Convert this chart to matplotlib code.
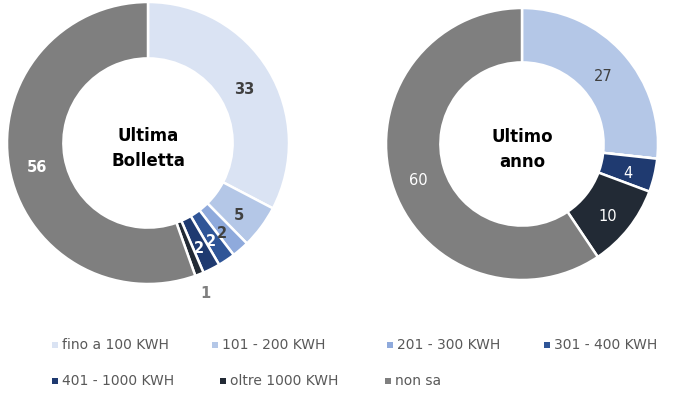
import matplotlib
matplotlib.use("Agg")
import matplotlib.pyplot as plt
from matplotlib.patches import Rectangle
import numpy as np

plt.rcParams['font.family'] = ['DejaVu Sans']

# dati
categorie = ["fino a 100 KWH", "101 - 200 KWH", "201 - 300 KWH", "301 - 400 KWH",
             "401 - 1000 KWH", "oltre 1000 KWH", "non sa"]
ultima_bolletta = [33, 5, 2, 2, 2, 1, 56]
ultimo_anno = [0, 27, 0, 0, 4, 10, 60]
colori = ["#DAE3F3", "#B4C7E7", "#8FAADC", "#2F5597", "#1F3A70", "#222A35", "#7F7F7F"]

W, H = 680, 401


def ciambella(ax, valori, titolo, grassetto, col_testo):
    wedges, _ = ax.pie(valori, colors=colori, startangle=90, counterclock=False,
                       radius=1, wedgeprops=dict(width=0.4, edgecolor="white", linewidth=1.8))
    ax.set_xlim(-1, 1)
    ax.set_ylim(-1, 1)
    ax.set_aspect("equal")
    for w, v, c in zip(wedges, valori, col_testo):
        if v == 0:
            continue
        ang = np.deg2rad((w.theta1 + w.theta2) / 2)
        r = 0.80 if v > 1 else 1.11
        ax.text(r * np.cos(ang), r * np.sin(ang) - 0.035, str(v), ha="center", va="center",
                fontsize=10.5, color=c, fontweight="bold" if grassetto else "normal",
                clip_on=False)
    ax.text(0, -0.04, titolo, ha="center", va="center", fontsize=12, fontweight="bold",
            color="black", linespacing=1.45)


fig = plt.figure(figsize=(6.8, 4.01), dpi=100)

ax1 = fig.add_axes([(148 - 141) / W, 1 - (143 + 141) / H, 282 / W, 282 / H])
ciambella(ax1, ultima_bolletta, "Ultima\nBolletta", True,
          ["#404040", "#404040", "#404040", "white", "white", "#7F7F7F", "white"])

ax2 = fig.add_axes([(522 - 136) / W, 1 - (144 + 136) / H, 272 / W, 272 / H])
ciambella(ax2, ultimo_anno, "Ultimo\nanno", False,
          ["#404040", "#404040", "#404040", "white", "white", "white", "white"])

# legenda disposta a mano, due righe
pos_legenda = [(52, 345), (212, 345), (387, 345), (544, 345),
               (52, 381), (220, 381), (385, 381)]
for (x, y), nome, c in zip(pos_legenda, categorie, colori):
    fig.add_artist(Rectangle((x / W, 1 - (y + 3) / H), 6 / W, 6 / H,
                             transform=fig.transFigure, facecolor=c, edgecolor="none"))
    fig.text((x + 10) / W, 1 - y / H, nome, ha="left", va="center",
             fontsize=10, color="#595959")

fig.savefig("out.png", dpi=100)
